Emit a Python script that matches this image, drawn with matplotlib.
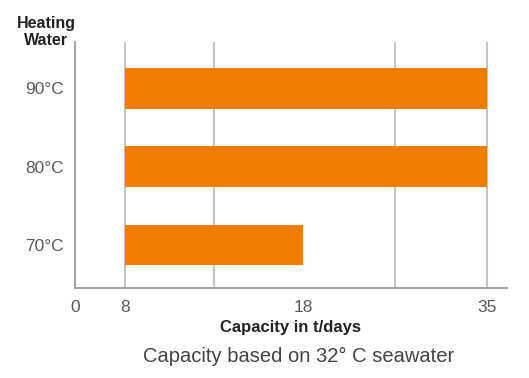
import numpy as np
import matplotlib
matplotlib.use("Agg")
import matplotlib.pyplot as plt

# datos
temperaturas = ["70°C", "80°C", "90°C"]
cap_min = [8, 8, 8]
cap_max = [18, 35, 35]
ticks_x = [0, 8, 18, 35]
grid_x = [8, 13, 26.5, 35]

NARANJA = "#EE7D00"
GRIS = "#5a5a5a"

# eje x no lineal (tramos)
px_data = [0, 8, 18, 35, 50]
px_pos = [0, 50, 228, 412, 412 + 15 * 184 / 17]


def fwd(x):
    return np.interp(x, px_data, px_pos)


def inv(p):
    return np.interp(p, px_pos, px_data)


plt.rcParams["font.family"] = ["Liberation Sans", "DejaVu Sans"]

fig = plt.figure(figsize=(5.29, 3.78), dpi=100)
ax = fig.add_axes([75 / 529, 1 - 288 / 378, 432 / 529, 246 / 378])
ax.set_xscale("function", functions=(fwd, inv))
ax.set_xlim(0, inv(432))
ax.set_ylim(-0.55, 2.59)

y = np.arange(len(temperaturas))
ancho = [b - a for a, b in zip(cap_min, cap_max)]
ax.barh(y, ancho, left=cap_min, height=0.52, color=NARANJA, zorder=3)

for g in grid_x:
    ax.axvline(g, color="#c4c4c4", lw=1.5, zorder=1)

for s in ["top", "right"]:
    ax.spines[s].set_visible(False)
for s in ["left", "bottom"]:
    ax.spines[s].set_color("#9a9a9a")
    ax.spines[s].set_linewidth(1.3)

ax.set_yticks(y)
ax.set_yticklabels(temperaturas, fontsize=12.5, color=GRIS)
ax.set_xticks(ticks_x)
ax.set_xticklabels([str(t) for t in ticks_x], fontsize=12.5, color=GRIS)
ax.tick_params(length=0, pad=8)
ax.tick_params(axis="x", pad=9)

ax.set_xlabel("Capacity in t/days", fontsize=12, fontweight="bold",
              color="#222222", labelpad=3)

fig.text(46 / 529, 1 - 32 / 378, "Heating\nWater", ha="center", va="center",
         fontsize=11.5, fontweight="bold", color="#222222", linespacing=1.15)
fig.text(299 / 529, 1 - 356 / 378, "Capacity based on 32° C seawater",
         ha="center", va="center", fontsize=14.5, color="#444444")

fig.savefig("out.png", dpi=100)
